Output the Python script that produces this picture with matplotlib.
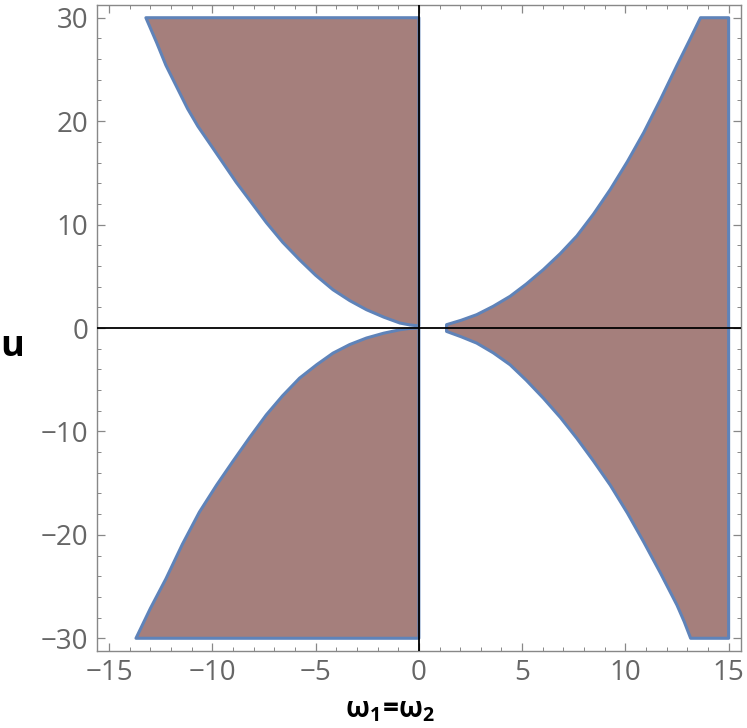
import numpy as np
import matplotlib.pyplot as plt
from matplotlib.ticker import MultipleLocator

plt.rcParams['font.family'] = ['Open Sans', 'DejaVu Sans']
plt.rcParams['mathtext.fontset'] = 'custom'
plt.rcParams['mathtext.bf'] = 'Open Sans:bold'
plt.rcParams['mathtext.rm'] = 'Open Sans'

# boundary curves (omega, u)
# upper left: from the top edge down to the origin
ul_w = [-13.22, -12.7, -12.25, -11.7, -11.2, -10.7, -10.15, -9.5, -8.85, -8.1, -7.39,
        -6.6, -5.78, -5.0, -4.16, -3.35, -2.54, -1.7, -0.92, -0.45, 0.0]
ul_u = [30.0, 27.6, 25.4, 23.2, 21.2, 19.5, 17.9, 16.0, 14.1, 12.1, 10.2,
        8.3, 6.6, 5.1, 3.7, 2.65, 1.77, 1.05, 0.48, 0.3, 0.2]
# lower left: from the bottom edge up to the origin
ll_w = [-13.7, -13.0, -12.25, -11.45, -10.63, -9.8, -9.01, -8.2, -7.39, -6.6, -5.78,
        -4.95, -4.16, -3.35, -2.54, -1.7, -0.92, -0.45, 0.0]
ll_u = [-30.0, -27.1, -24.25, -20.9, -17.8, -15.2, -12.9, -10.6, -8.4, -6.55, -4.85,
        -3.55, -2.43, -1.6, -0.97, -0.5, -0.17, -0.04, 0.0]
# upper right: from the tip near omega=1.3 up to the top edge
ur_w = [1.34, 2.05, 2.8, 3.6, 4.42, 5.2, 6.03, 6.85, 7.65, 8.45, 9.27, 10.1, 10.89,
        11.7, 12.5, 13.1, 13.64]
ur_u = [0.32, 0.75, 1.29, 2.1, 3.07, 4.25, 5.65, 7.2, 8.9, 11.0, 13.4, 16.1, 18.9,
        22.1, 25.4, 27.8, 30.0]
# lower right: from the tip down to the bottom edge
lr_w = [1.34, 2.05, 2.8, 3.6, 4.42, 5.2, 6.03, 6.85, 7.65, 8.45, 9.27, 10.1, 10.89,
        11.7, 12.5, 12.85, 13.16]
lr_u = [-0.33, -0.85, -1.46, -2.4, -3.56, -5.05, -6.79, -8.65, -10.67, -12.85, -15.2,
        -17.9, -20.7, -23.7, -26.8, -28.4, -30.0]

w_max = 15
u_max = 30

fill_col = '#a57f7c'
edge_col = '#5f83b9'

fig = plt.figure(figsize=(7.47, 7.28), dpi=100)
ax = fig.add_axes([0.1295, 0.1062, 0.8625, 0.8865])

# upper left piece
px = ul_w + [0.0]
py = ul_u + [u_max]
ax.fill(px, py, facecolor=fill_col, edgecolor=edge_col, linewidth=2.2, joinstyle='round')

# lower left piece
px = ll_w + [0.0]
py = ll_u + [-u_max]
ax.fill(px, py, facecolor=fill_col, edgecolor=edge_col, linewidth=2.2, joinstyle='round')

# right piece (one region)
px = ur_w + [w_max, w_max] + lr_w[::-1]
py = ur_u + [u_max, -u_max] + lr_u[::-1]
ax.fill(px, py, facecolor=fill_col, edgecolor=edge_col, linewidth=2.2, joinstyle='round')

ax.axhline(0, color='black', linewidth=1.3, zorder=3)
ax.axvline(0, color='black', linewidth=1.3, zorder=3)

ax.set_xlim(-15.6, 15.6)
ax.set_ylim(-31.2, 31.2)

ax.xaxis.set_major_locator(MultipleLocator(5))
ax.xaxis.set_minor_locator(MultipleLocator(1))
ax.yaxis.set_major_locator(MultipleLocator(10))
ax.yaxis.set_minor_locator(MultipleLocator(2))

ax.tick_params(which='both', direction='in', top=True, right=True,
               color='#888888', labelcolor='#666666', labelsize=20)
ax.tick_params(which='major', length=5.5, width=0.9, pad=6)
ax.tick_params(which='minor', length=3, width=0.7)
for s in ax.spines.values():
    s.set_color('#888888')
    s.set_linewidth(1.0)

fig.text(12 / 747, 1 - 347 / 728, 'u', fontsize=26, fontweight='bold',
         ha='center', va='center')
fig.text(390 / 747, 1 - 710 / 728, r'$\mathbf{ω_1\!=\!ω_2}$', fontsize=20,
         ha='center', va='center')

plt.savefig('out.png', dpi=100)
